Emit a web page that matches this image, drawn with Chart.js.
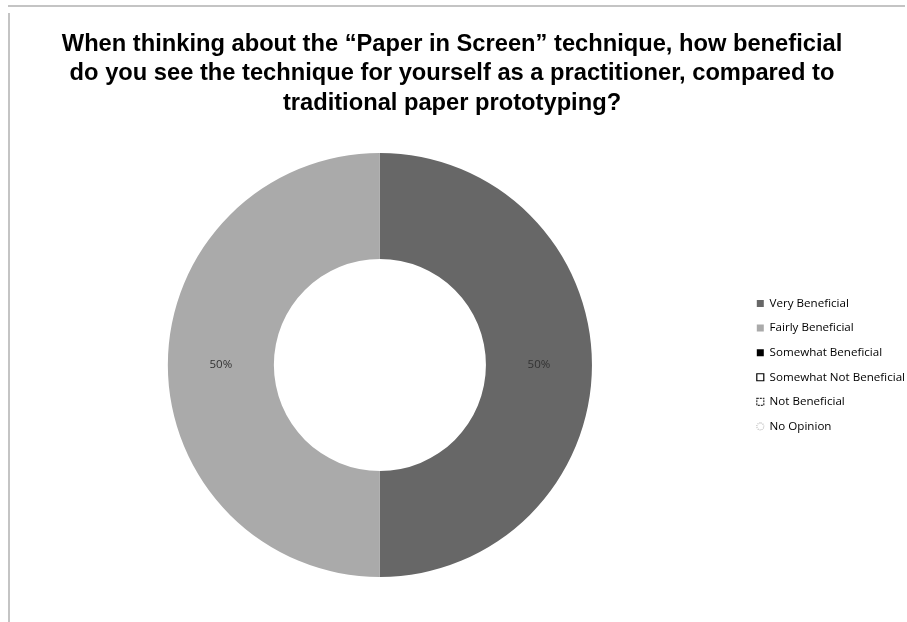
<!DOCTYPE html>
<html>
<head>
<meta charset="utf-8">
<script src="https://cdn.jsdelivr.net/npm/chart.js@4"></script>
<style>
  html, body { margin: 0; padding: 0; background: #fff; }
  #wrap { position: relative; width: 907px; height: 622px; overflow: hidden; }
  #frameTop { position: absolute; left: 8px; top: 5px; width: 897px; height: 0; border-top: 2px solid #c4c4c4; }
  #frameLeft { position: absolute; left: 8px; top: 13px; width: 0; height: 609px; border-left: 2px solid #c4c4c4; }
  canvas { position: absolute; left: 0; top: 0; }
</style>
</head>
<body>
<div id="wrap">
  <div id="frameTop"></div>
  <div id="frameLeft"></div>
  <canvas id="surveyChart" width="907" height="622"></canvas>
</div>
<script>
const titleLines = [
    'When thinking about the \u201cPaper in Screen\u201d technique, how beneficial',
    'do you see the technique for yourself as a practitioner, compared to',
    'traditional paper prototyping?'
];
const categories = ['Very Beneficial', 'Fairly Beneficial', 'Somewhat Beneficial', 'Somewhat Not Beneficial', 'Not Beneficial', 'No Opinion'];
const shares = [50, 50, 0, 0, 0, 0];
const sliceColors = ['#676767', '#aaaaaa', '#000000', '#ffffff', '#ffffff', '#ffffff'];
const legendBorders = ['#676767', '#aaaaaa', '#000000', '#000000', '#333333', '#bbbbbb'];

// writes "50%" in the middle of each ring segment
const sliceLabels = {
    id: 'sliceLabels',
    afterDatasetsDraw(chart) {
        const ctx = chart.ctx;
        const meta = chart.getDatasetMeta(0);
        ctx.save();
        ctx.font = '11.5px "Open Sans", sans-serif';
        ctx.fillStyle = '#333333';
        ctx.textAlign = 'center';
        ctx.textBaseline = 'middle';
        meta.data.forEach((arc, i) => {
            if (!shares[i]) return;
            const p = arc.tooltipPosition();
            ctx.fillText(shares[i] + '%', p.x, p.y);
        });
        ctx.restore();
    }
};

// title should be centred on the whole page, not on the padded layout box
const centreTitle = {
    id: 'centreTitle',
    afterLayout(chart) {
        chart.titleBlock.left = 0;
        chart.titleBlock.right = chart.width - 3;
    }
};

function initChart() {
    const ctx = document.getElementById('surveyChart').getContext('2d');
    new Chart(ctx, {
        type: 'doughnut',
        data: {
            labels: categories,
            datasets: [{
                data: shares,
                backgroundColor: sliceColors,
                borderWidth: 0
            }]
        },
        options: {
            responsive: false,
            animation: false,
            cutout: '50%',
            layout: { padding: { left: 16, right: -8, top: 0, bottom: 45 } },
            plugins: {
                title: {
                    display: true,
                    text: titleLines,
                    color: '#000',
                    font: { family: '"Liberation Sans", Arial, sans-serif', size: 23.7, weight: 'bold', lineHeight: 1.25 },
                    padding: { top: 29.5, bottom: 34.5 }
                },
                legend: {
                    position: 'right',
                    align: 'center',
                    fullSize: false,
                    labels: {
                        color: '#000',
                        font: { family: '"Open Sans", sans-serif', size: 11.6 },
                        boxWidth: 7,
                        boxHeight: 7,
                        padding: 13,
                        useBorderRadius: true,
                        generateLabels: () => categories.map((c, i) => ({
                            text: c,
                            fillStyle: sliceColors[i],
                            strokeStyle: legendBorders[i],
                            lineWidth: i >= 3 ? 1.2 : 0,
                            lineDash: i === 4 ? [2, 1] : (i === 5 ? [1, 1] : []),
                            borderRadius: i === 5 ? 3.5 : 0,
                            hidden: false,
                            index: i
                        }))
                    }
                },
                tooltip: { enabled: false }
            }
        },
        plugins: [sliceLabels, centreTitle]
    });
}

document.addEventListener('DOMContentLoaded', initChart);
</script>
</body>
</html>
